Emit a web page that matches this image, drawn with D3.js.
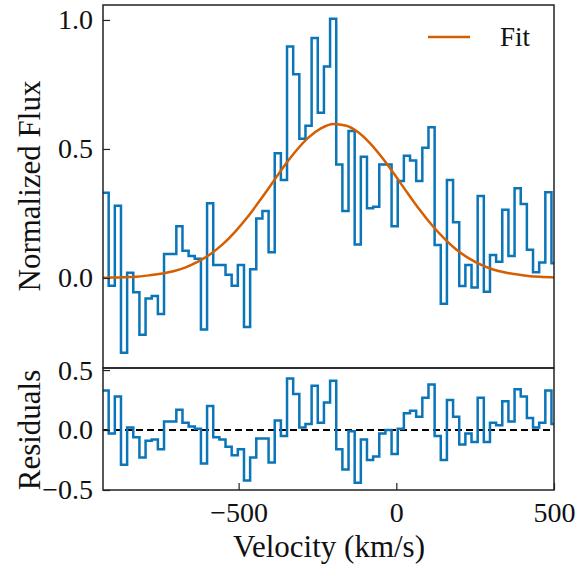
<!DOCTYPE html>
<html>
<head>
<meta charset="utf-8">
<script src="https://cdn.jsdelivr.net/npm/d3@7"></script>
<style>
body{margin:0;background:#fff;}
</style>
</head>
<body>
<svg id="chart" width="580" height="565" font-family="'Liberation Serif', 'DejaVu Serif', serif"></svg>
<script>
// bin left edges (km/s), last entry is right edge of final bin
const binEdges = [-931.5,-912,-892.5,-873,-853.5,-834,-814.5,-795,-775.5,-756,-736.5,-717,-697.5,-678,-658.5,-639,-619.5,-600,-580.5,-561,-541.5,-522,-502.5,-483,-463.5,-444,-424.5,-405,-385.5,-366,-346.5,-327,-307.5,-288,-268.5,-249,-229.5,-210,-190.5,-171,-151.5,-132,-112.5,-93,-73.5,-54,-34.5,-15,4.5,24,43.5,63,82.5,102,121.5,141,160.5,180,199.5,219,238.5,258,277.5,297,316.5,336,355.5,375,394.5,414,433.5,453,472.5,492,511.5];
const flux = [0.33,-0.03,0.28,-0.29,0.02,-0.055,-0.22,-0.08,-0.07,-0.14,0.093,0.093,0.20,0.105,0.085,0.074,-0.20,0.29,0.05,0.05,0.012,-0.03,0.05,-0.19,0.034,0.23,0.26,0.10,0.483,0.38,0.897,0.79,0.54,0.59,0.93,0.64,0.82,1.005,0.44,0.26,0.57,0.13,0.47,0.27,0.276,0.44,0.44,0.20,0.376,0.474,0.455,0.376,0.505,0.584,0.128,-0.10,0.38,0.216,-0.031,0.05,-0.037,0.318,-0.053,0.089,0.063,0.264,0.085,0.348,0.287,0.109,0.022,0.06,0.332,0.057];
const residuals = [0.33,-0.03,0.28,-0.29,0.02,-0.06,-0.23,-0.09,-0.08,-0.16,0.07,0.07,0.17,0.06,0.03,0.01,-0.28,0.20,-0.06,-0.08,-0.14,-0.21,-0.16,-0.42,-0.23,-0.07,-0.07,-0.27,0.08,-0.05,0.43,0.30,0.02,0.05,0.37,0.06,0.23,0.41,-0.16,-0.33,-0.01,-0.44,-0.08,-0.25,-0.22,-0.03,0.00,-0.20,0.01,0.14,0.16,0.11,0.27,0.38,-0.05,-0.25,0.25,0.11,-0.12,-0.03,-0.10,0.27,-0.10,0.06,0.04,0.24,0.07,0.34,0.28,0.10,0.02,0.06,0.33,0.05];
const fitV = [-930,-902,-863,-824,-785,-746,-707,-668,-629,-590,-551,-512,-473,-434,-395,-356,-317,-278,-239,-200,-161,-122,-83,-44,-5,34,73,112,151,190,229,268,307,346,385,424,463,500];
const fitF = [0.001,0.0015,0.003,0.005,0.010,0.016,0.026,0.041,0.063,0.092,0.130,0.178,0.234,0.298,0.365,0.433,0.494,0.545,0.580,0.597,0.591,0.566,0.522,0.465,0.400,0.332,0.266,0.206,0.154,0.110,0.077,0.052,0.033,0.021,0.013,0.007,0.004,0.002];
const xTicks = [-500,0,500];
const yTicksTop = [0.0,0.5,1.0];
const yTicksRes = [-0.5,0.0,0.5];

const svg = d3.select("#chart");
const serif = "'Liberation Serif', 'DejaVu Serif', serif";
const left = 103, right = 554;
const x = d3.scaleLinear().domain([-930,500]).range([left,right]);
const yT = d3.scaleLinear().domain([-0.349,1.058]).range([368,5]);
const yR = d3.scaleLinear().domain([-0.5,0.517]).range([490,368]);
const fmt = d => d3.format(".1f")(d).replace("-","\u2212");
const blue = "#0a75b8", orange = "#d55e00";

svg.append("defs").append("clipPath").attr("id","ct").append("rect")
  .attr("x",left).attr("y",5).attr("width",right-left).attr("height",363);
svg.append("defs").append("clipPath").attr("id","cr").append("rect")
  .attr("x",left).attr("y",368).attr("width",right-left).attr("height",122);

function stepPts(vals){
  let pts = vals.map((v,i)=>[binEdges[i],v]);
  pts.push([binEdges[vals.length],vals[vals.length-1]]);
  return pts;
}

// top panel
svg.append("path").attr("clip-path","url(#ct)")
  .attr("d", d3.line().x(d=>x(d[0])).y(d=>yT(d[1])).curve(d3.curveStepAfter)(stepPts(flux)))
  .attr("fill","none").attr("stroke",blue).attr("stroke-width",2.5);
svg.append("path").attr("clip-path","url(#ct)")
  .attr("d", d3.line().x((d,i)=>x(fitV[i])).y(d=>yT(d)).curve(d3.curveMonotoneX)(fitF))
  .attr("fill","none").attr("stroke",orange).attr("stroke-width",2.5);

// residual panel
svg.append("line").attr("x1",left).attr("x2",right).attr("y1",yR(0)).attr("y2",yR(0))
  .attr("stroke","#000").attr("stroke-width",2).attr("stroke-dasharray","7,4");
svg.append("path").attr("clip-path","url(#cr)")
  .attr("d", d3.line().x(d=>x(d[0])).y(d=>yR(d[1])).curve(d3.curveStepAfter)(stepPts(residuals)))
  .attr("fill","none").attr("stroke",blue).attr("stroke-width",2.5);

// frames
svg.append("rect").attr("x",left).attr("y",5).attr("width",right-left).attr("height",363)
  .attr("fill","none").attr("stroke","#222").attr("stroke-width",1.5);
svg.append("rect").attr("x",left).attr("y",368).attr("width",right-left).attr("height",122)
  .attr("fill","none").attr("stroke","#222").attr("stroke-width",1.5);

// axes with inward ticks
function styleAxis(g){
  g.attr("font-family",serif);
  g.select(".domain").remove();
  g.selectAll(".tick line").attr("stroke","#222").attr("stroke-width",1.2);
  g.selectAll(".tick text").attr("font-size",28).attr("fill","#111").attr("font-family",serif);
}
svg.append("g").attr("transform",`translate(${left},0)`)
  .call(d3.axisLeft(yT).tickValues(yTicksTop).tickFormat(fmt).tickSizeInner(-7).tickPadding(10))
  .call(styleAxis);
svg.append("g").attr("transform",`translate(${left},0)`)
  .call(d3.axisLeft(yR).tickValues(yTicksRes).tickFormat(fmt).tickSizeInner(-7).tickPadding(10))
  .call(styleAxis);
svg.append("g").attr("transform","translate(0,490)")
  .call(d3.axisBottom(x).tickValues(xTicks).tickFormat(d=>String(d).replace("-","\u2212")).tickSizeInner(-7).tickPadding(12))
  .call(styleAxis);

// labels
const lab = (sel) => sel.attr("font-family",serif).attr("fill","#111").attr("text-anchor","middle").attr("font-size",31);
svg.append("text").attr("transform","translate(40,186) rotate(-90)").call(lab).text("Normalized Flux");
svg.append("text").attr("transform","translate(40,430) rotate(-90)").call(lab).text("Residuals");
svg.append("text").attr("x",329).attr("y",557).call(lab).text("Velocity (km/s)");

// legend
svg.append("line").attr("x1",428).attr("x2",470).attr("y1",37).attr("y2",37)
  .attr("stroke",orange).attr("stroke-width",2.5);
svg.append("text").attr("x",500).attr("y",46).attr("font-family",serif).attr("fill","#111")
  .attr("font-size",27).text("Fit");
</script>
</body>
</html>
